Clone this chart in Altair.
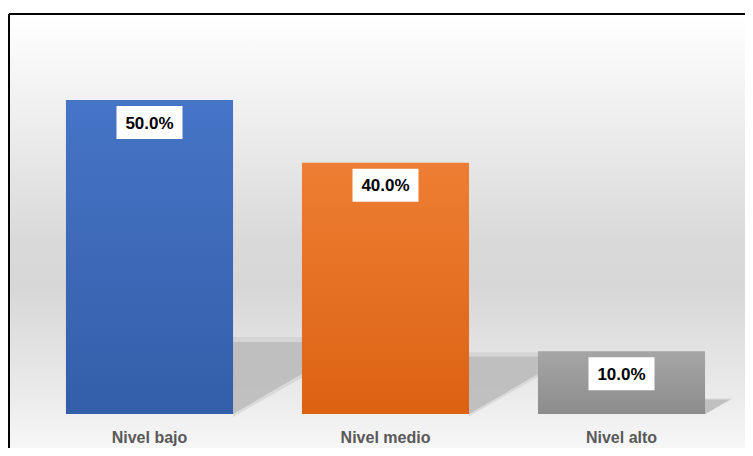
import altair as alt
import pandas as pd

categories = ["Nivel bajo", "Nivel medio", "Nivel alto"]
values = [0.50, 0.40, 0.10]
labels = ["50.0%", "40.0%", "10.0%"]

df = pd.DataFrame({"cat": categories, "val": values, "lab": labels})

W, H = 736, 434
xs = alt.Scale(domain=categories, range=[22.5, 730.5], paddingInner=0.292, paddingOuter=0.146)
ys = alt.Scale(domain=[0, 0.6], range=[400, 23.2], nice=False, zero=True)

X = alt.X("cat:N", scale=xs, axis=None, sort=categories)
Y = alt.Y("val:Q", scale=ys, axis=None)
Y0 = alt.Y("base:Q", scale=ys, axis=None)

def grad(c1, c2):
    return alt.Gradient(gradient="linear", x1=0, y1=0, x2=0, y2=1,
                        stops=[alt.GradientStop(offset=0, color=c1),
                               alt.GradientStop(offset=1, color=c2)])

bg = alt.Chart(df).mark_rect(
    fill=alt.Gradient(gradient="linear", x1=0, y1=0, x2=0, y2=1, stops=[
        alt.GradientStop(offset=0, color="#ffffff"),
        alt.GradientStop(offset=0.25, color="#ededed"),
        alt.GradientStop(offset=0.5, color="#d9d9d9"),
        alt.GradientStop(offset=0.6, color="#d7d7d7"),
        alt.GradientStop(offset=0.82, color="#e9e9e9"),
        alt.GradientStop(offset=1, color="#fbfbfb"),
    ])
).encode(x=alt.value(0), x2=alt.value(W + 20), y=alt.value(0), y2=alt.value(H + 20))

# floor shadows: triangle at each bar's lower right corner, height ~23% of the bar
shadows = []
for c, v in zip(categories, values):
    h = 144 * v
    base = alt.Chart(df).transform_filter(alt.datum.cat == c).transform_calculate(base="0")
    shadows.append(
        base.mark_point(
            shape="M0 0.04 L-0.03 -1.07 L1.95 -1.07 Z", filled=True, fill="#c8c8c8",
            opacity=0.5, strokeWidth=0, xOffset=83.5, size=4 * h * h
        ).encode(x=X, y=Y0)
    )
    shadows.append(
        base.mark_point(
            shape="M0 0 L0 -1 L1.72 -1 Z", filled=True, fill="#bdbdbd",
            opacity=0.9, strokeWidth=0, xOffset=83.5, size=4 * h * h
        ).encode(x=X, y=Y0)
    )

fills = {
    "Nivel bajo": grad("#4674c6", "#335ea9"),
    "Nivel medio": grad("#ee7e33", "#dc6212"),
    "Nivel alto": grad("#a6a6a6", "#8c8c8c"),
}

bars = [
    alt.Chart(df).transform_filter(alt.datum.cat == c).mark_bar(fill=f).encode(x=X, y=Y)
    for c, f in fills.items()
]

box = alt.Chart(df).mark_point(
    shape="M-1,-0.5L1,-0.5L1,0.5L-1,0.5Z", size=66 * 66, filled=True,
    fill="#ffffff", opacity=1, strokeWidth=0, yOffset=22.5
).encode(x=X, y=Y)

txt = alt.Chart(df).mark_text(
    font="Liberation Sans", fontWeight="bold", fontSize=17, color="#000000",
    baseline="middle", yOffset=23.5
).encode(x=X, y=Y, text="lab:N")

catlab = alt.Chart(df).mark_text(
    font="Liberation Sans", fontWeight="bold", fontSize=16, color="#595959",
    baseline="middle", yOffset=24
).encode(x=X, y=alt.datum(0), text="cat:N")

frame_left = alt.Chart(df).mark_rule(color="#000000", strokeWidth=1.5).encode(
    x=alt.value(0), y=alt.value(0), y2=alt.value(H + 20))
frame_top = alt.Chart(df).mark_rule(color="#000000", strokeWidth=1.5).encode(
    x=alt.value(0), x2=alt.value(W + 20), y=alt.value(0))

chart = alt.layer(bg, *shadows, *bars, box, txt, catlab, frame_left, frame_top).properties(
    width=W, height=H,
    padding={"left": 1, "top": 6, "right": 0, "bottom": 0},
    autosize=alt.AutoSizeParams(type="none"),
).configure_view(stroke=None)

chart.save("out.html", embed_options={"renderer": "svg", "actions": False})
